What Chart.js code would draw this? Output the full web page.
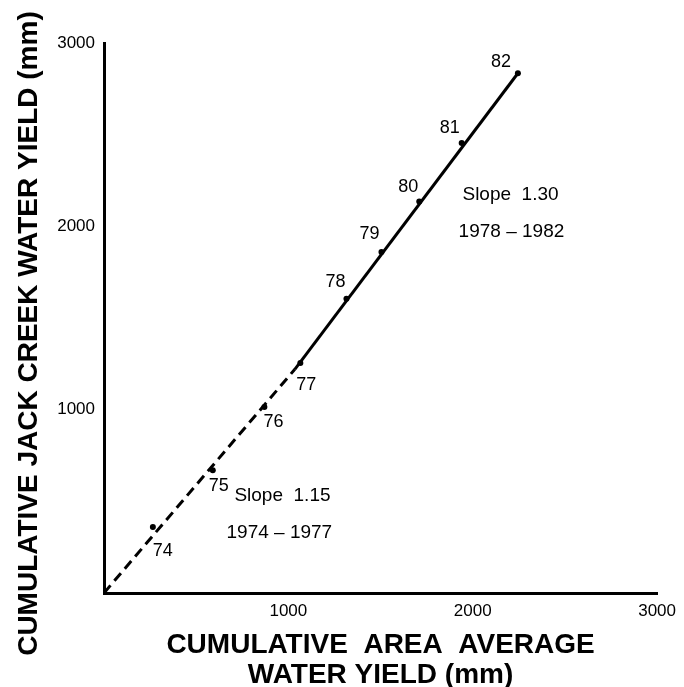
<!DOCTYPE html>
<html>
<head>
<meta charset="utf-8">
<script src="https://cdn.jsdelivr.net/npm/chart.js@4/dist/chart.umd.min.js"></script>
<style>
  html, body { margin: 0; padding: 0; background: #ffffff; }
  #wrap { width: 684px; height: 687px; }
</style>
</head>
<body>
<div id="wrap"><canvas id="c" width="684" height="687"></canvas></div>
<script>
// ---- data ----
const years      = ['74', '75', '76', '77', '78', '79', '80', '81', '82'];
const areaYield  = [265, 590, 870, 1065, 1315, 1505, 1710, 1940, 2245];   // x, mm
const jackYield  = [360, 670, 1015, 1255, 1605, 1860, 2135, 2455, 2835];  // y, mm

// fitted lines
const fit1974X = [0, 1035];
const fit1974Y = [0, 1220];
const fit1978X = [1035, 2245];
const fit1978Y = [1220, 2835];

const tickValues = [1000, 2000, 3000];

// annotation texts and the data position they sit at
const noteTexts = ['Slope  1.30', '1978 – 1982', 'Slope  1.15', '1974 – 1977'];
const noteX     = [2205, 2210, 968, 951];
const noteY     = [2171, 1969, 529, 327];

// ---- styling (pixel offsets of the year labels from their points) ----
const labelDx = [10, 6, 9, 6, -11, -12, -11, -12, -17];
const labelDy = [24, 16, 15, 22, -17, -18, -15, -15, -11];

const pts = (xs, ys) => xs.map((x, i) => ({ x: x, y: ys[i] }));

const labelPlugin = {
  id: 'yearLabels',
  afterDatasetsDraw(chart) {
    const ctx = chart.ctx;
    const xs = chart.scales.x, ys = chart.scales.y;
    ctx.save();
    ctx.fillStyle = '#000';
    ctx.textAlign = 'center';
    ctx.textBaseline = 'middle';
    ctx.font = '18px "Liberation Sans", Arial, sans-serif';
    const meta = chart.getDatasetMeta(2);
    meta.data.forEach((el, i) => {
      ctx.fillText(years[i], el.x + labelDx[i], el.y + labelDy[i]);
    });
    ctx.font = '19px "Liberation Sans", Arial, sans-serif';
    noteTexts.forEach((t, i) => {
      ctx.fillText(t, xs.getPixelForValue(noteX[i]), ys.getPixelForValue(noteY[i]));
    });
    ctx.restore();
  }
};

new Chart(document.getElementById('c'), {
  type: 'scatter',
  data: {
    datasets: [
      {
        label: '1974 - 1977',
        data: pts(fit1974X, fit1974Y),
        showLine: true,
        borderColor: '#000',
        borderWidth: 3,
        borderDash: [10, 6],
        pointRadius: 0,
        fill: false
      },
      {
        label: '1978 - 1982',
        data: pts(fit1978X, fit1978Y),
        showLine: true,
        borderColor: '#000',
        borderWidth: 3,
        pointRadius: 0,
        fill: false
      },
      {
        label: 'Years',
        data: pts(areaYield, jackYield),
        showLine: false,
        pointRadius: 3,
        pointBackgroundColor: '#000',
        pointBorderColor: '#000',
        pointBorderWidth: 0
      }
    ]
  },
  plugins: [labelPlugin],
  options: {
    responsive: false,
    animation: false,
    layout: { padding: { top: 43, right: 25, left: 0, bottom: 0 } },
    plugins: { legend: { display: false }, tooltip: { enabled: false } },
    scales: {
      x: {
        type: 'linear',
        min: 0,
        max: 3000,
        afterBuildTicks: (s) => { s.ticks = tickValues.map(v => ({ value: v })); },
        afterFit: (s) => { s.height = 94; },
        grid: { display: false, drawTicks: false },
        border: { display: true, color: '#000', width: 3 },
        ticks: {
          color: '#000',
          padding: 8,
          maxRotation: 0,
          callback: (v) => String(v),
          font: { family: '"Liberation Sans", Arial, sans-serif', size: 17 }
        },
        title: {
          display: true,
          text: ['CUMULATIVE  AREA  AVERAGE', 'WATER YIELD (mm)'],
          color: '#000',
          font: { family: '"Liberation Sans", Arial, sans-serif', size: 28, weight: 'bold', lineHeight: 1.07 },
          padding: { top: 0, bottom: -3 }
        }
      },
      y: {
        type: 'linear',
        min: 0,
        max: 3000,
        afterBuildTicks: (s) => { s.ticks = tickValues.map(v => ({ value: v })); },
        afterFit: (s) => { s.width = 104; },
        grid: { display: false, drawTicks: false },
        border: { display: true, color: '#000', width: 3 },
        ticks: {
          color: '#000',
          padding: 9,
          callback: (v) => String(v),
          font: { family: '"Liberation Sans", Arial, sans-serif', size: 17 }
        },
        title: {
          display: true,
          text: 'CUMULATIVE JACK CREEK WATER YIELD (mm)    ',
          color: '#000',
          font: { family: '"Liberation Sans", Arial, sans-serif', size: 28, weight: 'bold', lineHeight: 1.0 },
          padding: { top: 15, bottom: 0 }
        }
      }
    }
  }
});
</script>
</body>
</html>
